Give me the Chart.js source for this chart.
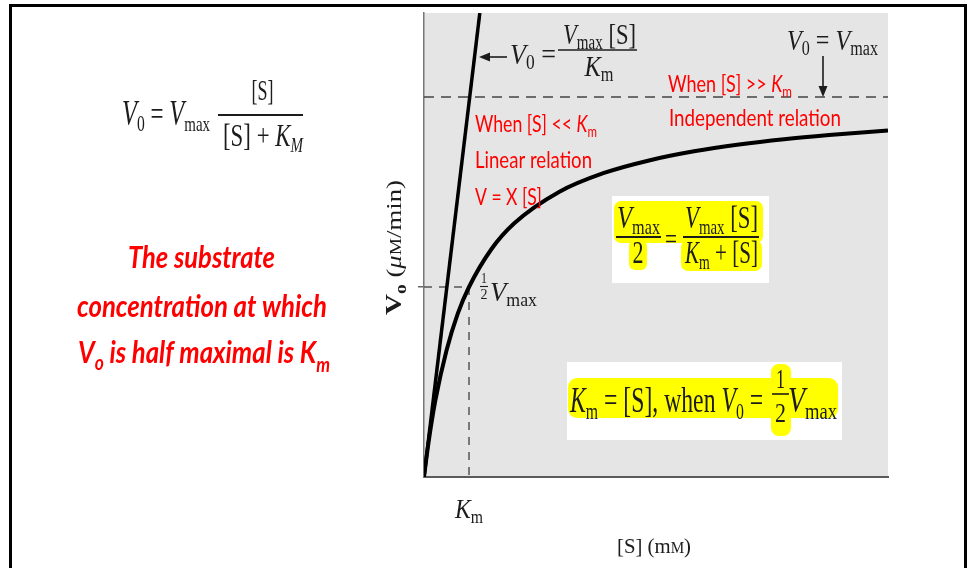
<!DOCTYPE html>
<html><head><meta charset="utf-8">
<script src="https://cdn.jsdelivr.net/npm/chart.js@4.4.0/dist/chart.umd.min.js"></script>
<style>html,body{margin:0;padding:0;background:#fff;}canvas{display:block;}</style>
</head><body>
<canvas id="c" width="976" height="568"></canvas>
<script>
// ---- values (Vmax = 1, Km = 1 units) ----
const substrate = [0, 0.1, 0.25, 0.5, 0.75, 1, 1.5, 2, 3, 4, 5, 6, 7, 8, 9, 10.31];
const velocity  = [0, 0.09, 0.2, 0.333, 0.43, 0.5, 0.6, 0.667, 0.75, 0.8, 0.833, 0.857, 0.875, 0.889, 0.9, 0.912];
const linearS = [0, 1.24];
const linearV = [0, 1.221];
const vmaxS = [0, 10.31];
const vmaxV = [1, 1];
const halfS = [0, 1, 1];
const halfV = [0.5, 0.5, 0];
const xRange = [0, 10.31];
const yRange = [0, 1.221];
const yTickValues = [0.5];
const kmValue = 1;

const pts = (xs, ys) => xs.map((x, i) => ({x, y: ys[i]}));
const SERIF = '"Liberation Serif","Times New Roman",serif';
const SANS = 'Lato,"Open Sans",sans-serif';
const INK = '#1c1c1c';
const RED = '#ff0000';
const YEL = '#ffff00';

const it = (t, s, dy=0) => ({t, f:`italic ${s}px ${SERIF}`, dy});
const rm = (t, s, dy=0) => ({t, f:`${s}px ${SERIF}`, dy});
const bd = (t, s, dy=0) => ({t, f:`bold ${s}px ${SERIF}`, dy});
const bi = (t, s, dy=0) => ({t, f:`bold italic ${s}px ${SERIF}`, dy});
const sn = (t, s, dy=0) => ({t, f:`${s}px ${SANS}`, dy});
const si = (t, s, dy=0) => ({t, f:`italic ${s}px ${SANS}`, dy});
const sbi = (t, s, dy=0) => ({t, f:`bold italic ${s}px ${SANS}`, dy});

function measure(ctx, runs){ let w=0; for(const r of runs){ctx.font=r.f; w+=ctx.measureText(r.t).width;} return w; }
function drawRich(ctx, x, y, runs, o={}) {
  const w = measure(ctx, runs);
  const sx = o.w ? o.w / w : 1;
  const W = w*sx;
  let x0 = x; if (o.align==='center') x0 = x - W/2; else if (o.align==='right') x0 = x - W;
  ctx.save(); ctx.translate(x0, y); ctx.scale(sx, 1);
  ctx.fillStyle = o.color || INK; ctx.textBaseline='alphabetic'; ctx.textAlign='left';
  let cx = 0;
  for (const r of runs){ ctx.font=r.f; ctx.fillText(r.t, cx, r.dy||0); cx += ctx.measureText(r.t).width; }
  ctx.restore();
}
function hline(ctx, x1, x2, y, lw=1.4, col=INK){ ctx.save(); ctx.strokeStyle=col; ctx.lineWidth=lw; ctx.beginPath(); ctx.moveTo(x1,y); ctx.lineTo(x2,y); ctx.stroke(); ctx.restore(); }
function rrect(ctx, x, y, w, h, r, col){ ctx.save(); ctx.fillStyle=col; ctx.beginPath(); ctx.roundRect(x,y,w,h,r); ctx.fill(); ctx.restore(); }

const bgPlugin = {
  id: 'bg',
  beforeDraw(chart){
    const {ctx, chartArea:a} = chart;
    ctx.save();
    ctx.fillStyle = '#fff'; ctx.fillRect(0,0,chart.width,chart.height);
    ctx.fillStyle = '#e5e5e5'; ctx.fillRect(a.left, a.top, a.right-a.left, a.bottom-a.top);
    ctx.restore();
  }
};

const textPlugin = {
  id: 'texts',
  afterDraw(chart){
    const {ctx} = chart;
    const xs = chart.scales.x, ys = chart.scales.y;
    // outer frame
    ctx.save(); ctx.strokeStyle='#000'; ctx.lineWidth=3;
    ctx.beginPath(); ctx.moveTo(10.5, 572); ctx.lineTo(10.5, 5.5); ctx.lineTo(965.5, 5.5); ctx.lineTo(965.5, 572); ctx.stroke(); ctx.restore();

    // left formula
    drawRich(ctx, 122, 125, [it('V',36), rm('0',23,6), rm(' = ',34), it('V',36), rm('max',22,6)], {w:88});
    hline(ctx, 218, 303, 115, 1.8);
    drawRich(ctx, 262.5, 100, [rm('[S]',30)], {w:22, align:'center'});
    drawRich(ctx, 223, 146, [rm('[S] + ',32), it('K',32), it('M',21,6)], {w:80});

    // left red statement
    drawRich(ctx, 128, 268, [sbi('The substrate',31)], {w:147, color:RED});
    drawRich(ctx, 77, 317, [sbi('concentration at which',31)], {w:250, color:RED});
    drawRich(ctx, 78, 363, [sbi('V',31), sbi('o',21,7), sbi(' is half maximal is K',31), sbi('m',21,9)], {w:252, color:RED});

    // red annotations in plot
    drawRich(ctx, 668, 92, [sn('When [S] >> ',23), si('K',23), sn('m',15,5)], {w:124, color:RED});
    drawRich(ctx, 669, 126, [sn('Independent relation',23)], {w:172, color:RED});
    drawRich(ctx, 475, 132, [sn('When [S] << ',23), si('K',23), sn('m',15,5)], {w:122, color:RED});
    drawRich(ctx, 475, 168, [sn('Linear relation',23)], {w:117, color:RED});
    drawRich(ctx, 475, 205, [sn('V = X [S]',23)], {w:67, color:RED});

    // top formula with left arrow
    ctx.save(); ctx.strokeStyle=INK; ctx.fillStyle=INK; ctx.lineWidth=1.6;
    ctx.beginPath(); ctx.moveTo(486,57); ctx.lineTo(507,57); ctx.stroke();
    ctx.beginPath(); ctx.moveTo(479,57); ctx.lineTo(490,52.5); ctx.lineTo(490,61.5); ctx.closePath(); ctx.fill();
    ctx.restore();
    drawRich(ctx, 510, 64, [it('V',30), rm('0',20,5), rm(' =',30)], {w:46});
    hline(ctx, 558, 637, 50, 1.5);
    drawRich(ctx, 563, 44, [it('V',30), rm('max',20,5), rm(' [S]',30)], {w:73});
    drawRich(ctx, 599, 76, [it('K',30), rm('m',20,5)], {w:29, align:'center'});

    // V0 = Vmax with down arrow
    drawRich(ctx, 787, 50, [it('V',30), rm('0',20,5), rm(' = ',30), it('V',30), rm('max',20,5)], {w:91});
    ctx.save(); ctx.strokeStyle=INK; ctx.fillStyle=INK; ctx.lineWidth=1.6;
    ctx.beginPath(); ctx.moveTo(823,56); ctx.lineTo(823,88); ctx.stroke();
    ctx.beginPath(); ctx.moveTo(823,97); ctx.lineTo(818.5,86); ctx.lineTo(827.5,86); ctx.closePath(); ctx.fill();
    ctx.restore();

    // box 1
    ctx.save(); ctx.fillStyle='#fff'; ctx.fillRect(612,196,157,87); ctx.restore();
    rrect(ctx, 614, 201, 149, 42, 7, YEL);
    rrect(ctx, 629, 240, 18, 30, 6, YEL);
    rrect(ctx, 681, 240, 81, 31, 7, YEL);
    drawRich(ctx, 617, 228, [it('V',32), rm('max',21,6)], {w:43});
    hline(ctx, 616, 661, 237, 2);
    drawRich(ctx, 638, 263, [rm('2',32)], {align:'center', w:11});
    drawRich(ctx, 671, 249, [rm('=',30)], {align:'center', w:12});
    drawRich(ctx, 685, 228, [it('V',32), rm('max',21,6), rm(' [S]',32)], {w:73});
    hline(ctx, 683, 759, 237, 2);
    drawRich(ctx, 685, 263, [it('K',32), rm('m',21,6), rm(' + [S]',32)], {w:73});

    // box 2
    ctx.save(); ctx.fillStyle='#fff'; ctx.fillRect(567,362,275,78); ctx.restore();
    rrect(ctx, 568, 378, 270, 40, 9, YEL);
    rrect(ctx, 771, 364, 20, 72, 8, YEL);
    drawRich(ctx, 570, 412, [it('K',36), rm('m',24,7), rm(' = [S], when ',36), it('V',36), rm('0',24,7), rm(' = ',36)], {w:199});
    drawRich(ctx, 780.5, 388, [rm('1',28)], {align:'center', w:9});
    hline(ctx, 772, 789, 394, 1.6);
    drawRich(ctx, 780.5, 422, [rm('2',28)], {align:'center', w:11});
    drawRich(ctx, 788, 412, [it('V',36), rm('max',24,7)], {w:49});

    // 1/2 Vmax label near the half-level tick
    const yh = ys.getPixelForValue(yTickValues[0]);
    const xk = xs.getPixelForValue(kmValue);
    drawRich(ctx, 484, yh-4, [rm('1',14)], {align:'center', w:6});
    hline(ctx, 480, 488, yh-0.5, 1.1);
    drawRich(ctx, 484, yh+12, [rm('2',14)], {align:'center', w:7});
    drawRich(ctx, 490, yh+14, [it('V',27), rm('max',18,5)], {w:47});

    // Km under the axis
    drawRich(ctx, xk - 14, 518, [it('K',27), rm('m',18,5)], {w:28});

    // axis titles
    const cxm = (chart.chartArea.left + chart.chartArea.right)/2;
    drawRich(ctx, cxm - 2, 553, [rm('[S] (m',22), rm('M',16), rm(')',22)], {w:74, align:'center'});
    ctx.save(); ctx.translate(401, 247.5); ctx.rotate(-Math.PI/2);
    drawRich(ctx, 0, 0, [bd('V',24), bd('o',16,5), rm(' (',22), it('μ',22), rm('M',16), rm('/min)',22)], {w:135, align:'center'});
    ctx.restore();
  }
};

new Chart(document.getElementById('c'), {
  type: 'scatter',
  data: {
    datasets: [
      { data: pts(substrate, velocity), showLine:true, borderColor:'#000', borderWidth:4, pointRadius:0, cubicInterpolationMode:'monotone', fill:false },
      { data: pts(linearS, linearV), showLine:true, borderColor:'#000', borderWidth:3.5, pointRadius:0 },
      { data: pts(vmaxS, vmaxV), showLine:true, borderColor:'#444', borderWidth:1.6, borderDash:[10,7], pointRadius:0 },
      { data: pts(halfS, halfV), showLine:true, borderColor:'#555', borderWidth:1.5, borderDash:[8,7], pointRadius:0 }
    ]
  },
  options: {
    responsive:false, animation:false, events:[],
    layout:{ padding:{ left:370, right:88, top:13, bottom:0 } },
    plugins:{ legend:{display:false}, tooltip:{enabled:false} },
    scales:{
      x:{ type:'linear', min:xRange[0], max:xRange[1],
          afterFit: s => { s.height = 91; },
          afterBuildTicks: s => { s.ticks = []; },
          ticks:{display:false}, grid:{drawOnChartArea:false, drawTicks:false},
          border:{color:'#5a5a5a', width:2} },
      y:{ type:'linear', min:yRange[0], max:yRange[1],
          afterFit: s => { s.width = 54; },
          afterBuildTicks: s => { s.ticks = yTickValues.map(v => ({value:v})); },
          ticks:{display:false}, grid:{drawOnChartArea:false, tickLength:6, color:'#666', lineWidth:1.5},
          border:{color:'#777', width:1.5} }
    }
  },
  plugins:[bgPlugin, textPlugin]
});
</script>
</body></html>
